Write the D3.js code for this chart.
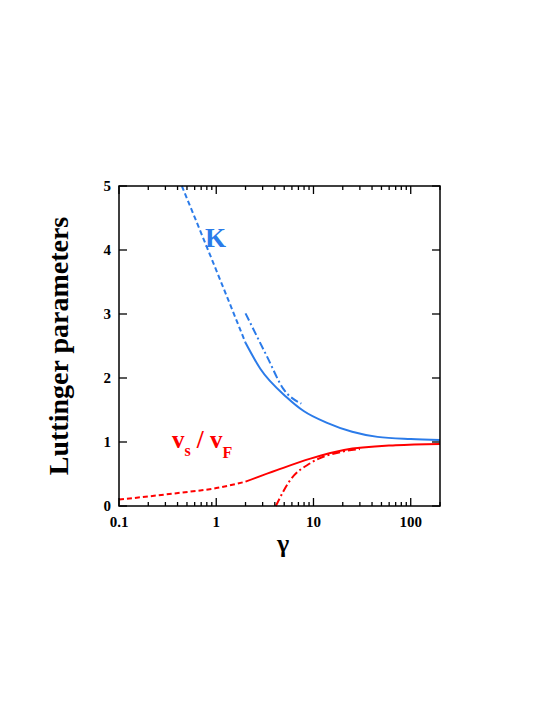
<!DOCTYPE html><html><head><script src="https://d3js.org/d3.v7.min.js"></script>
<style>body{margin:0;background:#fff}text{font-family:"Liberation Serif","Times New Roman",serif;font-weight:bold}</style></head><body><script>
const yTicks=[0,1,2,3,4,5];
const xTicks=[0.1,1,10,100];
const kDashed=[[0.443,5.0],[0.68,4.31],[1.1,3.53],[2,2.55]];
const kSolid=[[2,2.55],[2.85,2.14],[5.3,1.70],[8,1.48],[13.8,1.30],[25,1.16],[45.6,1.08],[100,1.045],[200,1.03]];
const kDashDot=[[2,3.01],[3.34,2.33],[4.9,1.83],[7.5,1.6]];
const vDashed=[[0.1,0.1],[0.39,0.2],[1,0.28],[2,0.38]];
const vSolid=[[2,0.38],[4.2,0.56],[9.3,0.74],[20.6,0.875],[70,0.95],[200,0.97]];
const vDashDot=[[4.1,0],[5.8,0.41],[9.3,0.67],[20,0.85],[30,0.89]];
const W=545,H=705,L=119,R=440,T=186,B=506;
const svg=d3.select("body").append("svg").attr("width",W).attr("height",H);
const x=d3.scaleLog().domain([0.1,200]).range([L,R]);
const y=d3.scaleLinear().domain([0,5]).range([B,T]);
const line=d3.line().x(d=>x(d[0])).y(d=>y(d[1])).curve(d3.curveMonotoneX);
const blue="#2b7be9",red="#ff0000";
const draw=(d,c,dash)=>svg.append("path").datum(d).attr("d",line).attr("fill","none").attr("stroke",c).attr("stroke-width",2).attr("stroke-dasharray",dash);
draw(kDashed,blue,"5,3");draw(kSolid,blue,null);draw(kDashDot,blue,"8,3,2,3");
draw(vDashed,red,"5,3");draw(vSolid,red,null);draw(vDashDot,red,"8,3,2,3");
const minor=[];for(let e=-1;e<3;e++)for(let m=1;m<10;m++){const v=m*Math.pow(10,e);if(v>=0.1&&v<=200)minor.push(v);}
const g=svg.append("g").attr("stroke","#000").attr("stroke-width",1.3);
minor.forEach(v=>{const len=xTicks.includes(v)?8:4;g.append("line").attr("x1",x(v)).attr("x2",x(v)).attr("y1",B).attr("y2",B-len);g.append("line").attr("x1",x(v)).attr("x2",x(v)).attr("y1",T).attr("y2",T+len);});
yTicks.forEach(v=>{g.append("line").attr("x1",L).attr("x2",L+8).attr("y1",y(v)).attr("y2",y(v));g.append("line").attr("x1",R).attr("x2",R-8).attr("y1",y(v)).attr("y2",y(v));});
svg.append("rect").attr("x",L).attr("y",T).attr("width",R-L).attr("height",B-T).attr("fill","none").attr("stroke","#000").attr("stroke-width",1.5);
yTicks.forEach(v=>svg.append("text").attr("x",L-8).attr("y",y(v)+5).attr("text-anchor","end").attr("font-size",15).text(v));
xTicks.forEach(v=>svg.append("text").attr("x",x(v)).attr("y",B+21).attr("text-anchor","middle").attr("font-size",15).text(v));
svg.append("text").attr("transform",`translate(68,${(T+B)/2}) rotate(-90)`).attr("text-anchor","middle").attr("font-size",28).text("Luttinger parameters");
svg.append("text").attr("x",283).attr("y",552).attr("text-anchor","middle").attr("font-size",26).text("γ");
svg.append("text").attr("x",205).attr("y",247).attr("fill",blue).attr("font-size",27).text("K");
const vt=svg.append("text").attr("x",172).attr("y",448).attr("fill",red).attr("font-size",25);
vt.append("tspan").text("v");vt.append("tspan").attr("font-size",16).attr("dy",8).text("s");
vt.append("tspan").attr("dy",-8).attr("dx",6).text("/ v");vt.append("tspan").attr("font-size",16).attr("dy",10).text("F");
</script></body></html>
